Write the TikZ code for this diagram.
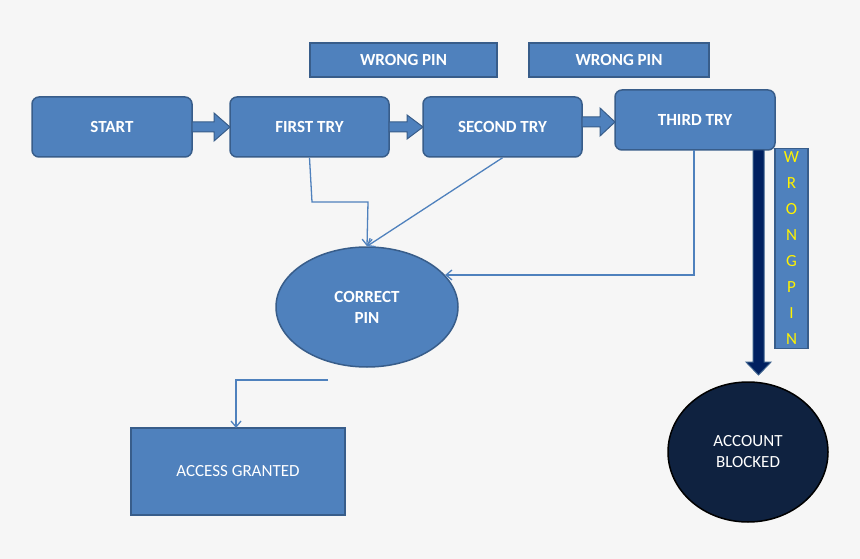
\documentclass[tikz,border=0pt]{standalone}
\usepackage{fontspec}
\setmainfont{Carlito}
\usetikzlibrary{arrows.meta,shapes.geometric}
\definecolor{bl}{HTML}{4F81BD}
\definecolor{bd}{HTML}{385D8A}
\definecolor{nv}{HTML}{0F2240}
\definecolor{dk}{HTML}{002060}
\begin{document}
\begin{tikzpicture}[x=1pt,y=-1pt,
 box/.style={draw=bd,line width=1.5pt,fill=bl,text=white,font=\bfseries\fontsize{17}{17}\selectfont},
 rbox/.style={box,rounded corners=7pt},
 conn/.style={draw=bl,line width=1.3pt,-{Straight Barb[length=6pt,width=10pt]}},
 barr/.style={fill=bl,draw=bd,line width=1pt}]
\fill[white!96.5!black] (0,0) rectangle (860,559);
\node[rbox,minimum width=160pt,minimum height=60pt] (start) at (112,127) {START};
\node[rbox,minimum width=159pt,minimum height=60pt] (first) at (309.5,127) {FIRST TRY};
\node[rbox,minimum width=159pt,minimum height=60pt] (second) at (502.5,127) {SECOND TRY};
\node[rbox,minimum width=160pt,minimum height=60pt] (third) at (695,120) {THIRD TRY};
\node[box,minimum width=187pt,minimum height=34pt] (w1) at (403.5,60) {WRONG PIN};
\node[box,minimum width=180pt,minimum height=34pt] (w2) at (619,60) {WRONG PIN};
\node[box,minimum width=33pt,minimum height=199pt,text=yellow,font=\fontsize{17}{26}\selectfont,align=center] (w3) at (791.5,248.5) {W\\R\\O\\N\\G\\P\\I\\N};
\node[box,ellipse,minimum width=182pt,minimum height=120pt,align=center,font=\bfseries\fontsize{17}{21}\selectfont] (pin) at (367,307) {CORRECT\\PIN};
\node[box,font=\fontsize{17}{17}\selectfont,minimum width=214pt,minimum height=87pt] (acc) at (238,471.5) {ACCESS GRANTED};
\node[draw=black,line width=1.5pt,fill=nv,text=white,ellipse,minimum width=160pt,minimum height=140pt,align=center,font=\fontsize{17}{21}\selectfont] (blk) at (748,452) {ACCOUNT\\BLOCKED};
% block arrows
\draw[barr] (192,122)--(214,122)--(214,113)--(230,127)--(214,141)--(214,132)--(192,132)--cycle;
\draw[barr] (389,122)--(407,122)--(407,115)--(423,127)--(407,139)--(407,132)--(389,132)--cycle;
\draw[barr] (582,117)--(600,117)--(600,108)--(615,122)--(600,136)--(600,127)--(582,127)--cycle;
\draw[fill=dk,draw=bd,line width=1pt] (753,150)--(764,150)--(764,362)--(771,362)--(758.5,375)--(746,362)--(753,362)--cycle;
% thin connectors
\draw[conn] (first.south) -- (312,202) -- (368,202) -- (pin.north);
\draw[conn] (second.south) -- (pin.north);
\draw[conn] (694,150) -- (694,275) -- (445,275);
\draw[conn] (328,380) -- (236,380) -- (236,428);
\end{tikzpicture}
\end{document}
